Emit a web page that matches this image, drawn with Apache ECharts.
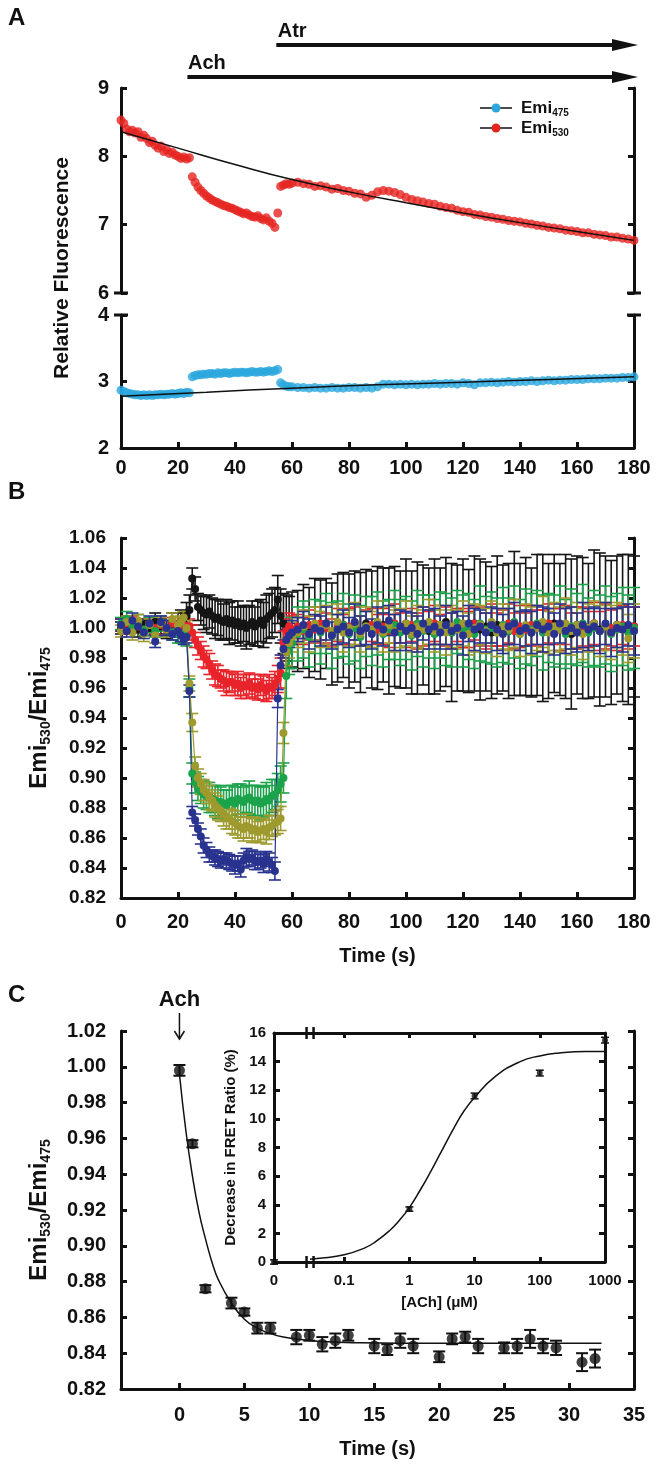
<!DOCTYPE html>
<html>
<head>
<meta charset="utf-8">
<title>FRET ratio traces</title>
<script src="https://cdn.jsdelivr.net/npm/echarts@6/dist/echarts.min.js"></script>
<style>
  html, body { margin: 0; padding: 0; background: #fff; }
  #chart { width: 658px; height: 1474px; }
</style>
</head>
<body>
<div id="chart"></div>
<script>
// ---------- panel A: raw emission traces ----------
const tA = [0,1,2,3,4,5,6,7,8,9,10,11,12,13,14,15,16,17,18,19,20,21,22,23,24,25,26,27,28,29,30,
  31,32,33,34,35,36,37,38,39,40,41,42,43,44,45,46,47,48,49,50,51,52,53,54,55,56,57,58,59,60,
  62,64,66,68,70,72,74,76,78,80,82,84,86,88,90,92,94,96,98,100,102,104,106,108,110,112,114,116,118,120,
  122,124,126,128,130,132,134,136,138,140,142,144,146,148,150,152,154,156,158,160,162,164,166,168,170,172,174,176,178,180];

const emi530 = [8.53,8.48,8.40,8.36,8.38,8.34,8.36,8.28,8.31,8.26,8.20,8.22,8.16,8.12,8.15,8.07,8.10,8.04,8.06,8.02,8.00,7.97,7.99,7.96,7.98,
  7.70,7.62,7.55,7.50,7.46,7.42,7.39,7.36,7.34,7.32,7.30,7.28,7.27,7.25,7.24,7.22,7.20,7.18,7.16,7.17,7.14,7.12,7.11,7.13,7.09,7.07,7.10,7.05,7.02,6.96,7.17,
  7.56,7.58,7.60,7.59,7.61,
  7.62,7.60,7.59,7.56,7.57,7.55,7.52,7.53,7.50,7.49,7.46,7.45,7.40,7.43,7.48,7.50,7.49,7.47,7.44,7.40,
  7.37,7.35,7.33,7.31,7.30,7.27,7.25,7.24,7.21,7.19,7.18,7.15,7.14,7.12,7.11,7.09,7.08,7.06,7.05,7.04,
  7.02,7.01,6.99,6.98,6.96,6.95,6.94,6.92,6.91,6.90,6.88,6.88,6.86,6.85,6.84,6.82,6.82,6.80,6.79,6.77];

const emi475 = [2.87,2.85,2.83,2.82,2.81,2.80,2.80,2.79,2.80,2.79,2.80,2.79,2.80,2.80,2.81,2.80,2.81,2.81,2.82,2.81,2.82,2.83,2.82,2.84,2.83,
  3.07,3.09,3.10,3.10,3.11,3.11,3.12,3.12,3.11,3.13,3.12,3.13,3.13,3.12,3.13,3.14,3.13,3.14,3.14,3.13,3.14,3.15,3.14,3.14,3.15,3.14,3.15,3.16,3.15,3.16,3.18,
  2.98,2.95,2.93,2.92,2.92,
  2.91,2.91,2.90,2.91,2.90,2.90,2.91,2.90,2.90,2.91,2.91,2.90,2.91,2.90,2.92,2.96,2.96,2.95,2.96,2.95,
  2.96,2.95,2.96,2.96,2.97,2.96,2.97,2.97,2.96,2.98,2.97,2.95,2.98,2.98,2.99,2.98,2.99,3.00,2.99,3.00,
  3.00,3.01,3.00,3.01,3.02,3.01,3.02,3.02,3.03,3.03,3.03,3.04,3.04,3.04,3.05,3.05,3.05,3.06,3.06,3.07];

const fitT530 = [0,20,40,60,80,100,120,140,160,180];
const fit530 = [8.36,8.12,7.88,7.66,7.48,7.32,7.17,7.03,6.90,6.77];
const fitT475 = [0,30,60,90,120,150,180];
const fit475 = [2.78,2.84,2.90,2.95,2.99,3.03,3.07];

// ---------- panel B: ratio traces with SEM ----------
const tB = [0,2,4,6,8,10,12,14,16,18,20,
  21,22,23,24,25,26,27,28,29,30,31,32,33,34,35,36,37,38,39,40,41,42,43,44,45,46,47,48,49,50,51,52,53,54,55,56,57,58,59,60,
  62,64,66,68,70,72,74,76,78,80,82,84,86,88,90,92,94,96,98,100,102,104,106,108,110,112,114,116,118,120,
  122,124,126,128,130,132,134,136,138,140,142,144,146,148,150,152,154,156,158,160,162,164,166,168,170,172,174,176,178,180];

const blackB = [1.000,1.003,1.001,0.999,1.002,1.000,1.004,1.001,0.999,1.003,1.002,
  1.004,1.003,1.008,1.012,1.033,1.026,1.014,1.012,1.010,1.009,1.011,1.008,1.006,1.007,1.005,1.004,1.006,1.003,1.005,1.002,
  1.004,1.001,1.003,1.000,1.002,1.004,1.001,1.003,1.005,1.002,1.006,1.008,1.010,1.012,1.019,1.008,1.003,1.000,0.997,0.999,
  0.998,1.001,0.997,1.002,0.999,1.003,0.996,1.000,1.002,0.998,1.001,0.997,1.003,0.999,1.000,1.002,0.998,1.001,0.999,1.003,
  0.997,1.000,1.002,0.998,1.001,0.999,1.004,0.997,1.000,1.002,0.998,1.003,0.999,1.001,0.997,1.002,1.000,0.998,1.003,0.999,
  1.001,0.997,1.002,1.000,0.998,1.003,0.999,1.001,0.996,1.002,1.000,0.998,1.003,0.999,1.001,0.997,1.002,1.000,0.999,1.001];
const errBlack = [0.004,0.005,0.004,0.005,0.004,0.005,0.006,0.005,0.006,0.007,0.008,
  0.008,0.008,0.009,0.010,0.007,0.008,0.009,0.010,0.011,0.012,0.011,0.012,0.013,0.012,0.013,0.012,0.013,0.014,0.013,0.012,
  0.014,0.013,0.012,0.014,0.013,0.014,0.013,0.015,0.014,0.015,0.016,0.015,0.016,0.015,0.016,0.018,0.020,0.022,0.024,0.025,
  0.027,0.028,0.030,0.031,0.033,0.030,0.034,0.036,0.035,0.038,0.037,0.040,0.036,0.039,0.041,0.038,0.042,0.040,0.039,0.043,
  0.041,0.044,0.040,0.042,0.045,0.041,0.043,0.046,0.042,0.044,0.041,0.045,0.047,0.043,0.044,0.046,0.042,0.045,0.048,0.044,
  0.046,0.043,0.047,0.049,0.045,0.046,0.044,0.048,0.050,0.046,0.047,0.045,0.049,0.051,0.047,0.048,0.046,0.049,0.050,0.047];

const redB = [1.002,0.999,1.004,1.001,0.998,1.003,1.000,1.002,0.999,1.003,1.001,
  1.000,1.002,0.999,1.001,0.997,0.992,0.988,0.985,0.981,0.979,0.976,0.972,0.969,0.968,0.966,0.965,0.963,0.964,0.964,0.962,
  0.963,0.960,0.962,0.961,0.963,0.960,0.961,0.959,0.962,0.960,0.958,0.961,0.960,0.963,0.966,0.970,0.990,0.998,1.001,0.999,
  1.001,0.998,1.002,0.999,1.003,1.000,0.997,1.002,0.999,1.001,1.003,0.998,1.000,1.002,0.999,1.001,0.998,1.003,1.000,0.999,
  1.002,0.998,1.001,1.000,1.003,0.999,1.001,0.998,1.002,1.000,0.999,1.003,1.001,0.998,1.002,0.999,1.000,1.003,0.998,1.001,
  0.999,1.002,1.000,0.998,1.003,1.001,0.999,1.002,0.998,1.000,1.001,0.999,1.003,0.998,1.001,1.000,0.999,1.002,1.000,1.001];
const errRed = [0.004,0.003,0.004,0.004,0.003,0.004,0.004,0.003,0.004,0.004,0.004,
  0.004,0.004,0.004,0.005,0.005,0.005,0.006,0.006,0.007,0.006,0.007,0.006,0.007,0.007,0.006,0.007,0.008,0.007,0.006,0.007,
  0.008,0.007,0.007,0.008,0.007,0.006,0.008,0.007,0.007,0.008,0.007,0.008,0.007,0.008,0.009,0.010,0.008,0.008,0.009,0.009,
  0.008,0.009,0.010,0.009,0.011,0.010,0.009,0.011,0.010,0.012,0.011,0.010,0.012,0.011,0.010,0.012,0.011,0.013,0.010,0.012,
  0.011,0.012,0.013,0.011,0.012,0.010,0.013,0.012,0.011,0.013,0.012,0.011,0.013,0.012,0.014,0.011,0.012,0.013,0.012,0.014,
  0.011,0.013,0.012,0.014,0.013,0.012,0.014,0.013,0.012,0.014,0.013,0.012,0.014,0.013,0.015,0.012,0.014,0.013,0.014,0.013];

const greenB = [1.003,1.006,1.001,1.004,0.999,1.002,0.998,1.003,1.000,0.997,0.996,
  0.995,0.996,0.994,0.960,0.903,0.897,0.893,0.891,0.889,0.888,0.887,0.886,0.885,0.884,0.884,0.883,0.882,0.884,0.885,0.883,
  0.886,0.885,0.884,0.886,0.887,0.885,0.884,0.885,0.883,0.884,0.886,0.885,0.888,0.889,0.892,0.896,0.900,0.968,0.985,0.990,
  0.996,0.999,0.994,1.001,0.997,1.003,0.995,0.999,1.002,0.996,1.000,0.994,1.001,0.998,1.003,0.996,0.999,1.002,0.997,1.000,
  0.995,1.003,0.998,1.001,0.996,1.002,0.999,0.997,1.004,0.998,1.001,0.996,1.003,0.999,1.000,0.997,1.002,0.998,1.004,0.996,
  1.001,0.999,1.003,0.997,1.000,0.998,1.002,0.996,1.001,0.999,1.003,0.997,1.000,0.998,1.002,0.996,0.999,1.001,0.997,1.000];
const errGreen = [0.004,0.005,0.004,0.005,0.004,0.005,0.004,0.005,0.005,0.005,0.006,
  0.005,0.006,0.006,0.006,0.007,0.007,0.008,0.008,0.009,0.009,0.010,0.009,0.010,0.011,0.010,0.009,0.010,0.011,0.010,0.011,
  0.010,0.011,0.010,0.009,0.011,0.010,0.011,0.010,0.011,0.010,0.011,0.010,0.011,0.010,0.011,0.012,0.010,0.015,0.016,0.017,
  0.018,0.019,0.020,0.018,0.021,0.020,0.022,0.019,0.021,0.020,0.022,0.021,0.020,0.023,0.021,0.022,0.020,0.023,0.022,0.021,
  0.023,0.022,0.024,0.021,0.023,0.022,0.024,0.023,0.021,0.024,0.022,0.023,0.025,0.022,0.024,0.023,0.025,0.022,0.024,0.023,
  0.025,0.024,0.022,0.025,0.023,0.024,0.026,0.023,0.025,0.024,0.026,0.023,0.025,0.024,0.026,0.025,0.024,0.026,0.025,0.027];

const oliveB = [0.998,1.004,0.997,1.005,0.996,1.002,0.995,1.003,0.999,1.006,1.002,
  1.004,1.007,1.000,0.963,0.937,0.908,0.900,0.896,0.892,0.890,0.887,0.885,0.882,0.880,0.878,0.876,0.874,0.873,0.871,0.870,
  0.868,0.867,0.866,0.868,0.867,0.865,0.866,0.864,0.865,0.866,0.864,0.867,0.868,0.870,0.871,0.873,0.930,0.984,0.990,0.994,
  0.997,1.001,0.996,1.003,0.999,1.002,0.998,1.004,0.997,1.000,1.003,0.996,1.001,0.999,1.004,0.997,1.002,0.998,1.000,1.003,
  0.996,1.001,0.999,1.004,0.998,1.002,0.997,1.001,0.999,1.003,0.996,1.000,1.002,0.998,1.004,0.997,1.001,0.999,1.003,0.996,
  1.002,0.998,1.000,1.004,0.997,1.001,0.999,1.003,0.998,1.002,0.996,1.000,1.003,0.998,1.001,0.997,1.002,0.999,0.993,0.998];
const errOlive = [0.004,0.004,0.005,0.004,0.005,0.004,0.005,0.004,0.005,0.004,0.005,
  0.004,0.004,0.005,0.005,0.006,0.006,0.006,0.007,0.007,0.007,0.008,0.007,0.008,0.008,0.007,0.008,0.008,0.007,0.008,0.008,
  0.008,0.007,0.008,0.008,0.007,0.008,0.008,0.007,0.008,0.007,0.008,0.008,0.007,0.008,0.008,0.008,0.007,0.009,0.010,0.010,
  0.010,0.011,0.012,0.011,0.012,0.013,0.011,0.012,0.013,0.012,0.014,0.012,0.013,0.012,0.014,0.013,0.012,0.014,0.013,0.015,
  0.012,0.014,0.013,0.015,0.014,0.013,0.015,0.014,0.013,0.015,0.014,0.016,0.013,0.015,0.014,0.016,0.015,0.014,0.016,0.015,
  0.014,0.016,0.015,0.017,0.014,0.016,0.015,0.017,0.016,0.015,0.017,0.016,0.015,0.017,0.016,0.018,0.015,0.017,0.016,0.018];

const blueB = [1.002,0.998,1.005,1.001,0.997,1.003,0.991,1.004,1.000,0.996,0.998,
  0.995,0.993,0.994,0.958,0.877,0.872,0.866,0.861,0.855,0.852,0.849,0.848,0.847,0.846,0.845,0.846,0.845,0.844,0.843,0.842,
  0.843,0.839,0.845,0.847,0.846,0.847,0.845,0.844,0.845,0.843,0.846,0.844,0.842,0.838,0.953,0.975,0.986,0.992,0.995,0.997,
  0.999,1.002,0.996,1.000,0.998,1.003,0.995,0.999,1.001,0.997,1.004,0.998,1.000,0.996,1.002,0.999,1.005,0.997,1.001,0.998,
  1.000,0.996,1.003,0.999,1.001,0.997,1.002,0.998,1.000,0.995,1.003,0.999,1.001,0.997,1.002,0.999,0.996,1.001,1.003,0.998,
  1.000,0.997,1.002,0.999,1.001,0.996,1.003,0.998,1.000,0.997,1.002,0.999,1.001,0.998,1.003,0.997,1.000,0.999,1.002,0.998];
const errBlue = [0.004,0.004,0.005,0.004,0.004,0.005,0.004,0.004,0.005,0.004,0.004,
  0.004,0.004,0.004,0.004,0.004,0.004,0.004,0.005,0.005,0.005,0.005,0.004,0.005,0.005,0.005,0.004,0.005,0.005,0.005,0.006,
  0.005,0.005,0.005,0.006,0.005,0.005,0.006,0.005,0.005,0.006,0.005,0.006,0.005,0.006,0.006,0.007,0.006,0.007,0.008,0.008,
  0.008,0.009,0.010,0.009,0.010,0.011,0.009,0.010,0.011,0.010,0.012,0.010,0.011,0.010,0.012,0.011,0.010,0.012,0.011,0.013,
  0.010,0.012,0.011,0.013,0.012,0.011,0.013,0.012,0.011,0.013,0.012,0.014,0.011,0.013,0.012,0.014,0.013,0.012,0.014,0.013,
  0.012,0.014,0.013,0.015,0.012,0.014,0.013,0.015,0.014,0.013,0.015,0.014,0.013,0.015,0.014,0.016,0.013,0.015,0.014,0.016];

// ---------- panel C: time course after ACh ----------
const tC = [0,1,2,4,5,6,7,9,10,11,12,13,15,16,17,18,20,21,22,23,25,26,27,28,29,31,32];
const ratioC = [0.998,0.957,0.876,0.868,0.863,0.854,0.854,0.849,0.850,0.845,0.847,0.850,0.844,0.842,0.847,0.844,0.838,0.848,0.849,0.844,0.843,0.844,0.848,0.844,0.843,0.835,0.837];
const errC = [0.003,0.002,0.002,0.003,0.002,0.003,0.003,0.004,0.003,0.004,0.004,0.003,0.004,0.003,0.004,0.004,0.003,0.003,0.003,0.004,0.003,0.004,0.005,0.004,0.004,0.005,0.005];
const fitTC = [0,0.5,1,1.5,2,2.5,3,4,5,6,7,8,9,11,14,20,32.5];
const fitC = [0.996,0.964,0.939,0.919,0.904,0.891,0.881,0.868,0.859,0.854,0.851,0.849,0.848,0.8465,0.8458,0.8455,0.8455];
const xTicksC = [0,5,10,15,20,25,30,35];

// inset: dose response
const achConc = [0,1,10,100,1000];
const fretDrop = [0,3.7,11.6,13.2,15.5];
const fretErr = [0.15,0.15,0.2,0.2,0.2];
const hillX = [0.03,0.05,0.1,0.2,0.3,0.5,0.7,1,1.5,2,3,5,7,10,20,50,100,200,500,1000];
const hillY = [0.2,0.3,0.5,0.95,1.4,2.2,2.9,3.8,5.1,6.1,7.6,9.5,10.6,11.5,12.9,14.0,14.4,14.6,14.7,14.7];
const concTicks = [0.0084,0.1,1,10,100,1000];

// ---------- helpers ----------
const FONT = "'Liberation Sans', Arial, Helvetica, sans-serif";
const INK = '#111';
const INSET_MIN = 0.0084;

const pts = (xs, ys) => xs.map((x, i) => [x, ys[i]]);
const bars = (xs, ys, es) => xs.map((x, i) => [x, ys[i] - es[i], ys[i] + es[i]]);

function errorBars(xIdx, yIdx, data, color, cap, width) {
  return {
    type: 'custom', xAxisIndex: xIdx, yAxisIndex: yIdx, data: data,
    encode: { x: 0, y: [1, 2] }, silent: true,
    renderItem: function (params, api) {
      const hi = api.coord([api.value(0), api.value(2)]);
      const lo = api.coord([api.value(0), api.value(1)]);
      const style = { stroke: color, lineWidth: width };
      return { type: 'group', children: [
        { type: 'line', shape: { x1: hi[0], y1: hi[1], x2: lo[0], y2: lo[1] }, style: style },
        { type: 'line', shape: { x1: hi[0] - cap, y1: hi[1], x2: hi[0] + cap, y2: hi[1] }, style: style },
        { type: 'line', shape: { x1: lo[0] - cap, y1: lo[1], x2: lo[0] + cap, y2: lo[1] }, style: style }
      ] };
    }
  };
}

const axisLine = (w) => ({ show: true, onZero: false, lineStyle: { color: INK, width: w } });
const tickIn = (len, w) => ({ show: true, inside: true, length: len, lineStyle: { color: INK, width: w } });
const lbl = (size, margin, extra) => Object.assign({ color: INK, fontFamily: FONT, fontWeight: 'bold', fontSize: size, margin: margin }, extra || {});

function yPair(grid, min, max, interval, size, margin, fmt, w, extraLeft) {
  const left = Object.assign({
    type: 'value', gridIndex: grid, min: min, max: max, interval: interval, position: 'left',
    axisLine: axisLine(w), axisTick: tickIn(6, w), splitLine: { show: false },
    axisLabel: lbl(size, margin, fmt ? { formatter: fmt } : {})
  }, extraLeft || {});
  const right = {
    type: 'value', gridIndex: grid, min: min, max: max, interval: interval, position: 'right',
    axisLine: axisLine(w), axisTick: tickIn(6, w), splitLine: { show: false }, axisLabel: { show: false }
  };
  return [left, right];
}

const two = (v) => v.toFixed(2);
const emiName = {
  name: '{m|Emi}{s|530}{m|/Emi}{s|475}', nameLocation: 'middle', nameRotate: 90, nameGap: 68,
  nameTextStyle: { color: INK, rich: {
    m: { fontFamily: FONT, fontWeight: 'bold', fontSize: 24, lineHeight: 28, color: INK },
    s: { fontFamily: FONT, fontWeight: 'bold', fontSize: 14, lineHeight: 9, verticalAlign: 'bottom', color: INK }
  } }
};
const timeName = (gap) => ({
  name: 'Time (s)', nameLocation: 'middle', nameGap: gap,
  nameTextStyle: { color: INK, fontFamily: FONT, fontWeight: 'bold', fontSize: 20 }
});

const chart = echarts.init(document.getElementById('chart'), null, { renderer: 'canvas' });

const option = {
  animation: false,
  backgroundColor: '#fff',
  grid: [
    { left: 121, top: 88, width: 513, height: 205, outerBoundsMode: 'none' },
    { left: 121, top: 315, width: 513, height: 133, outerBoundsMode: 'none' },
    { left: 121, top: 538, width: 513, height: 360, outerBoundsMode: 'none' },
    { left: 121, top: 1031, width: 513, height: 358, outerBoundsMode: 'none' },
    { left: 274, top: 1033, width: 331, height: 229, outerBoundsMode: 'none', show: true, backgroundColor: '#fff', borderWidth: 0 }
  ],
  xAxis: [
    { type: 'value', gridIndex: 0, min: 0, max: 180, show: false },
    { type: 'value', gridIndex: 1, min: 0, max: 180, interval: 20, axisLine: axisLine(3), axisTick: tickIn(6, 3),
      splitLine: { show: false }, axisLabel: lbl(20, 10) },
    Object.assign({ type: 'value', gridIndex: 2, min: 0, max: 180, interval: 20, axisLine: axisLine(3), axisTick: tickIn(6, 3),
      splitLine: { show: false }, axisLabel: lbl(20, 14) }, timeName(48)),
    Object.assign({ type: 'value', gridIndex: 3, min: -4.5, max: 35, axisLine: axisLine(3),
      axisTick: Object.assign(tickIn(6, 3), { customValues: xTicksC }),
      splitLine: { show: false }, axisLabel: lbl(20, 16, { customValues: xTicksC }) }, timeName(50)),
    { type: 'log', logBase: 10, gridIndex: 4, min: INSET_MIN, max: 1000, position: 'bottom',
      axisLine: axisLine(3), axisTick: Object.assign(tickIn(5, 3), { customValues: concTicks.slice(1) }),
      splitLine: { show: false }, minorTick: { show: false },
      axisLabel: lbl(15, 11, { customValues: concTicks, formatter: (v) => (v < 0.05 ? '0' : String(+v.toPrecision(3))) }),
      name: '[ACh] (\u03bcM)', nameLocation: 'middle', nameGap: 33,
      nameTextStyle: { color: INK, fontFamily: FONT, fontWeight: 'bold', fontSize: 15 } },
    { type: 'log', logBase: 10, gridIndex: 4, min: INSET_MIN, max: 1000, position: 'top',
      axisLine: axisLine(3), axisTick: Object.assign(tickIn(5, 3), { customValues: concTicks.slice(1) }),
      splitLine: { show: false }, minorTick: { show: false }, axisLabel: { show: false } }
  ],
  yAxis: [].concat(
    yPair(0, 6, 9, 1, 20, 12, null, 3),
    yPair(1, 2, 4, 1, 20, 12, null, 3),
    yPair(2, 0.82, 1.06, 0.02, 19, 15, two, 3, emiName),
    yPair(3, 0.82, 1.02, 0.02, 20, 15, two, 3, emiName),
    yPair(4, 0, 16, 2, 15, 8, null, 3, {
      name: 'Decrease in FRET Ratio (%)', nameLocation: 'middle', nameRotate: 90, nameGap: 29,
      nameTextStyle: { color: INK, fontFamily: FONT, fontWeight: 'bold', fontSize: 15 } })
  ),
  series: [
    // panel A
    { type: 'scatter', xAxisIndex: 0, yAxisIndex: 0, data: pts(tA, emi530), symbolSize: 9, itemStyle: { color: '#e52421' } },
    { type: 'line', xAxisIndex: 0, yAxisIndex: 0, data: pts(fitT530, fit530), smooth: true, showSymbol: false,
      lineStyle: { color: INK, width: 1.5 } },
    { type: 'scatter', xAxisIndex: 1, yAxisIndex: 2, data: pts(tA, emi475), symbolSize: 9, itemStyle: { color: '#2aa7df' } },
    { type: 'line', xAxisIndex: 1, yAxisIndex: 2, data: pts(fitT475, fit475), smooth: true, showSymbol: false,
      lineStyle: { color: INK, width: 1.5 } }
  ]
};

// panel B, drawn from back to front
const traceB = [
  [blackB, errBlack, '#151515'],
  [redB, errRed, '#e8232a'],
  [greenB, errGreen, '#1ba34b'],
  [oliveB, errOlive, '#9e9a2e'],
  [blueB, errBlue, '#29338f']
];
traceB.forEach(([vals, errs, color]) => {
  option.series.push(errorBars(2, 4, bars(tB, vals, errs), color, 6, 1.6));
  option.series.push({ type: 'line', xAxisIndex: 2, yAxisIndex: 4, data: pts(tB, vals), symbol: 'circle', symbolSize: 8,
    itemStyle: { color: color }, lineStyle: { color: color, width: 1.2 } });
});

// panel C and inset
option.series.push(
  { type: 'line', xAxisIndex: 3, yAxisIndex: 6, data: pts(fitTC, fitC), smooth: true, showSymbol: false,
    lineStyle: { color: INK, width: 1.5 } },
  errorBars(3, 6, bars(tC, ratioC, errC), INK, 6, 2),
  { type: 'scatter', xAxisIndex: 3, yAxisIndex: 6, data: pts(tC, ratioC), symbolSize: 11, itemStyle: { color: INK } },
  { type: 'line', xAxisIndex: 4, yAxisIndex: 8, data: pts(hillX, hillY), smooth: true, showSymbol: false,
    lineStyle: { color: INK, width: 1.5 }, z: 3 },
  errorBars(4, 8, bars(achConc.map(c => (c === 0 ? INSET_MIN : c)), fretDrop, fretErr), INK, 4, 1.5),
  { type: 'scatter', xAxisIndex: 4, yAxisIndex: 8, data: pts(achConc.map(c => (c === 0 ? INSET_MIN : c)), fretDrop),
    symbolSize: 6, itemStyle: { color: INK } }
);

chart.setOption(option);

// annotations placed from the axes
const px = (xi, v) => chart.convertToPixel({ xAxisIndex: xi }, v);
const py = (yi, v) => chart.convertToPixel({ yAxisIndex: yi }, v);
const txt = (x, y, text, size, extra) => ({ type: 'text', x: x, y: y, silent: true,
  style: Object.assign({ text: text, fill: INK, fontFamily: FONT, fontWeight: 'bold', fontSize: size, align: 'left', verticalAlign: 'middle' }, extra || {}) });

function bigArrow(x0, x1, y) {
  return [
    { type: 'line', shape: { x1: x0, y1: y, x2: x1 - 18, y2: y }, style: { stroke: INK, lineWidth: 4 } },
    { type: 'polygon', shape: { points: [[x1 - 24, y - 6], [x1 + 2, y], [x1 - 24, y + 6]] }, style: { fill: INK } }
  ];
}

const g = [];
g.push(txt(8, 18, 'A', 24), txt(8, 492, 'B', 24), txt(8, 995, 'C', 24));

// treatment bars for panel A
const xEnd = px(1, 180) + 2;
g.push(txt(px(1, 55), 31, 'Atr', 20), ...bigArrow(px(1, 54.5), xEnd, 45));
g.push(txt(px(1, 23.5), 63, 'Ach', 20), ...bigArrow(px(1, 23.3), xEnd, 77));

// shared y title for the split panel A
g.push(txt(62, 268, 'Relative Fluorescence', 21, { align: 'center' }));
g[g.length - 1].rotation = Math.PI / 2;

// break caps on the split axis
[[0, 6], [2, 4]].forEach(([yi, v]) => {
  const y = py(yi, v);
  [px(1, 0), px(1, 180)].forEach(x => g.push({ type: 'line', silent: true,
    shape: { x1: x - 7, y1: y, x2: x + 7, y2: y }, style: { stroke: INK, lineWidth: 3 } }));
});

// legend of panel A
[['475', '#2aa7df', 108], ['530', '#e52421', 128]].forEach(([sub, color, y]) => {
  g.push({ type: 'line', silent: true, shape: { x1: 480, y1: y, x2: 512, y2: y }, style: { stroke: INK, lineWidth: 1.5 } });
  g.push({ type: 'circle', silent: true, shape: { cx: 496, cy: y, r: 4.5 }, style: { fill: color } });
  g.push({ type: 'text', x: 521, y: y, silent: true, style: {
    text: '{m|Emi}{s|' + sub + '}', verticalAlign: 'middle', fill: INK,
    rich: { m: { fontFamily: FONT, fontWeight: 'bold', fontSize: 17, lineHeight: 20, fill: INK },
            s: { fontFamily: FONT, fontWeight: 'bold', fontSize: 10, lineHeight: 6, verticalAlign: 'bottom', fill: INK } } } });
});

// ACh addition mark in panel C
const xAch = px(3, 0);
g.push(txt(xAch, 1000, 'Ach', 22, { align: 'center' }));
g.push({ type: 'line', silent: true, shape: { x1: xAch, y1: 1013, x2: xAch, y2: 1039 }, style: { stroke: INK, lineWidth: 1.5 } });
g.push({ type: 'polyline', silent: true, shape: { points: [[xAch - 5, 1031], [xAch, 1039], [xAch + 5, 1031]] }, style: { stroke: INK, lineWidth: 1.5, fill: null } });

// axis breaks of the inset
const xb = px(4, 0.03);
[py(8, 16), py(8, 0)].forEach(y => {
  g.push({ type: 'rect', silent: true, shape: { x: xb - 3, y: y - 3, width: 6, height: 6 }, style: { fill: '#fff' } });
  [xb - 3.5, xb + 3.5].forEach(x => g.push({ type: 'line', silent: true,
    shape: { x1: x, y1: y - 6, x2: x, y2: y + 6 }, style: { stroke: INK, lineWidth: 2.5 } }));
});

chart.setOption({ graphic: { elements: g } });
</script>
</body>
</html>
